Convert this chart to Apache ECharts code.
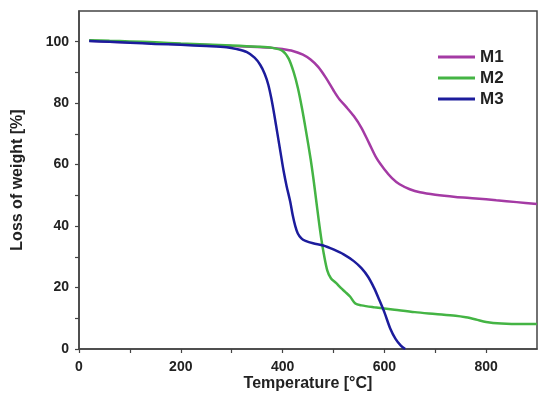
<!DOCTYPE html>
<html>
<head>
<meta charset="utf-8">
<script src="https://cdn.jsdelivr.net/npm/echarts@6/dist/echarts.min.js"></script>
<style>
html,body{margin:0;padding:0;background:#fff;}
#chart{width:550px;height:397px;}
</style>
</head>
<body>
<div id="chart"></div>
<script>
var seriesNames = ['M1', 'M2', 'M3'];

var tempM1 = [20, 60, 100, 150, 200, 250, 300, 350, 380, 400, 420, 440, 455, 470, 485, 500, 512, 525, 540, 555, 570, 585, 600, 615, 630, 650, 670, 700, 740, 780, 820, 860, 900];
var lossM1 = [100.3, 100.0, 99.8, 99.5, 99.2, 98.9, 98.6, 98.3, 98.0, 97.6, 97.0, 95.8, 94.2, 91.8, 88.3, 84.2, 81.2, 78.8, 75.8, 72.0, 67.0, 62.0, 58.5, 55.6, 53.6, 52.0, 51.0, 50.2, 49.5, 49.0, 48.4, 47.8, 47.2];

var tempM2 = [20, 60, 100, 150, 200, 250, 300, 350, 380, 400, 412, 422, 430, 438, 446, 455, 461, 466, 471, 476, 481, 488, 495, 505, 515, 523, 533, 543, 555, 580, 620, 660, 700, 740, 760, 780, 800, 830, 870, 900];
var lossM2 = [100.5, 100.3, 100.1, 99.8, 99.4, 99.1, 98.8, 98.4, 98.0, 97.0, 94.5, 90.0, 85.0, 78.5, 71.0, 62.0, 55.0, 48.5, 42.0, 36.0, 31.0, 25.5, 23.0, 21.5, 19.8, 18.6, 17.0, 14.8, 14.2, 13.6, 12.8, 12.0, 11.4, 10.8, 10.3, 9.6, 8.8, 8.3, 8.1, 8.1];

var tempM3 = [20, 60, 100, 150, 200, 250, 290, 310, 330, 345, 356, 365, 372, 378, 384, 390, 396, 402, 408, 415, 420, 425, 430, 437, 445, 460, 480, 500, 520, 540, 555, 568, 580, 590, 600, 612, 622, 632, 641];
var lossM3 = [100.2, 100.0, 99.7, 99.3, 99.0, 98.6, 98.2, 97.6, 96.6, 94.8, 92.5, 89.5, 86.0, 81.5, 76.0, 70.0, 64.0, 58.0, 53.0, 48.0, 43.5, 40.0, 37.6, 36.0, 35.2, 34.4, 33.7, 32.4, 30.8, 28.6, 26.3, 23.5, 19.8, 16.0, 12.0, 6.5, 3.3, 1.2, 0];

var xTickValues = [0, 200, 400, 600, 800];
var xMinorValues = [100, 300, 500, 700];
var yTickValues = [0, 20, 40, 60, 80, 100];
var yMinorValues = [10, 30, 50, 70, 90];

var colors = ['#a43aa4', '#44b444', '#1c1c9c'];

function zip(t, w) { return t.map(function (v, i) { return [v, w[i]]; }); }
var allData = [zip(tempM1, lossM1), zip(tempM2, lossM2), zip(tempM3, lossM3)];

var font = 'Liberation Sans, Arial, sans-serif';
var chart = echarts.init(document.getElementById('chart'), null, {renderer: 'canvas'});

var option = {
  animation: false,
  backgroundColor: '#ffffff',
  grid: {left: 79, right: 13, top: 11, bottom: 48, show: true, borderColor: '#444', borderWidth: 1.5, backgroundColor: 'transparent', containLabel: false, outerBoundsMode: 'none'},
  legend: {
    orient: 'vertical', left: 438, top: 48, padding: 0, itemWidth: 37, itemHeight: 3, itemGap: 3, icon: 'rect',
    data: seriesNames,
    textStyle: {fontFamily: font, fontWeight: 'bold', fontSize: 17, lineHeight: 18, color: '#222'}
  },
  xAxis: {
    type: 'value', min: 0, max: 900,
    name: 'Temperature [°C]', nameLocation: 'middle', nameGap: 27, nameMoveOverlap: false,
    nameTextStyle: {fontFamily: font, fontWeight: 'bold', fontSize: 16, color: '#222'},
    axisLine: {show: true, lineStyle: {color: '#444', width: 1.5}},
    axisTick: {show: true, length: 4, customValues: xTickValues.concat(xMinorValues), lineStyle: {color: '#444', width: 1.2}},
    axisLabel: {customValues: xTickValues, margin: 11, fontFamily: font, fontWeight: 'bold', fontSize: 14, color: '#222'},
    splitLine: {show: false}
  },
  yAxis: {
    type: 'value', min: 0, max: 110,
    name: 'Loss of weight [%]', nameLocation: 'middle', nameGap: 53, nameMoveOverlap: false,
    nameTextStyle: {fontFamily: font, fontWeight: 'bold', fontSize: 16, color: '#222'},
    axisLine: {show: true, lineStyle: {color: '#444', width: 1.5}},
    axisTick: {show: true, length: 4, customValues: yTickValues.concat(yMinorValues), lineStyle: {color: '#444', width: 1.2}},
    axisLabel: {customValues: yTickValues, margin: 10, fontFamily: font, fontWeight: 'bold', fontSize: 14, color: '#222'},
    splitLine: {show: false}
  },
  series: seriesNames.map(function (n, i) {
    return {
      name: n, type: 'line', data: allData[i], smooth: 0.3, symbol: 'none',
      lineStyle: {color: colors[i], width: 2.5}, itemStyle: {color: colors[i]}
    };
  })
};
chart.setOption(option);
</script>
</body>
</html>
